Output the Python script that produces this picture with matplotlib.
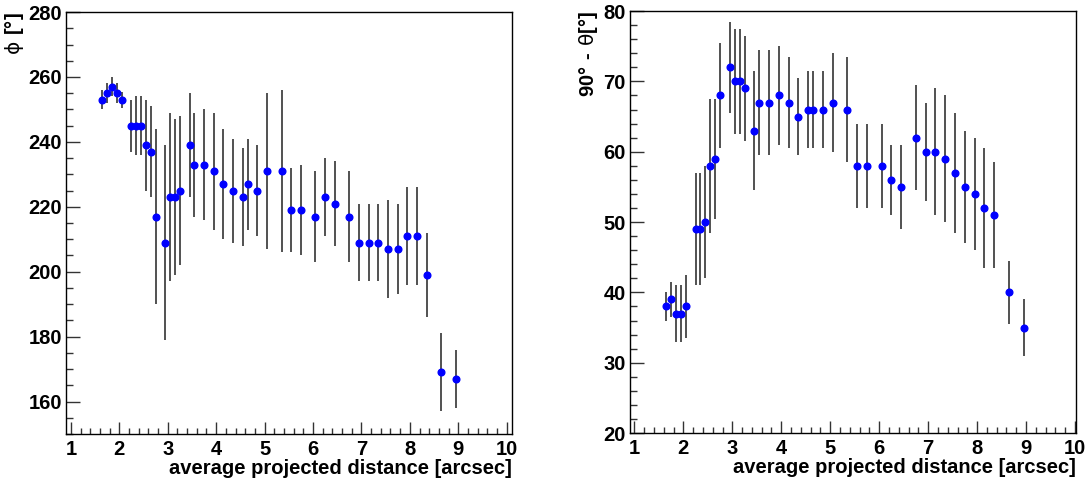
import numpy as np
import matplotlib.pyplot as plt
from matplotlib.ticker import MultipleLocator

plt.rcParams['font.family'] = ['Liberation Sans', 'DejaVu Sans']
plt.rcParams['font.weight'] = 'bold'
plt.rcParams['mathtext.fontset'] = 'custom'
plt.rcParams['mathtext.rm'] = 'DejaVu Sans:weight=normal'
plt.rcParams['mathtext.bf'] = 'Liberation Sans:bold'

# projected distance bins [arcsec]
dist = [1.65, 1.75, 1.85, 1.95, 2.05, 2.25, 2.35, 2.45, 2.55, 2.65, 2.75,
        2.95, 3.05, 3.15, 3.25, 3.45, 3.55, 3.75, 3.95, 4.15, 4.35, 4.55,
        4.65, 4.85, 5.05, 5.35, 5.55, 5.75, 6.05, 6.25, 6.45, 6.75, 6.95,
        7.15, 7.35, 7.55, 7.75, 7.95, 8.15, 8.35, 8.65, 8.95]

phi = [253, 255, 257, 255, 253, 245, 245, 245, 239, 237, 217,
       209, 223, 223, 225, 239, 233, 233, 231, 227, 225, 223,
       227, 225, 231, 231, 219, 219, 217, 223, 221, 217, 209,
       209, 209, 207, 207, 211, 211, 199, 169, 167]
phi_err = [3, 3, 3, 3, 2.5, 8, 9, 9, 14, 14, 27,
           30, 26, 24, 23, 16, 16, 17, 18, 17, 16, 15,
           14, 14, 24, 25, 13, 14, 14, 12, 13, 14, 12,
           12, 12, 15, 14, 15, 15, 13, 12, 9]

incl = [38, 39, 37, 37, 38, 49, 49, 50, 58, 59, 68,
        72, 70, 70, 69, 63, 67, 67, 68, 67, 65, 66,
        66, 66, 67, 66, 58, 58, 58, 56, 55, 62, 60,
        60, 59, 57, 55, 54, 52, 51, 40, 35]
incl_err = [2, 2.5, 4, 4, 4.5, 8, 8, 8, 9.5, 8.5, 7.5,
            6.5, 7.5, 7.5, 7.5, 8.5, 7.5, 7.5, 7, 6.5, 5.5, 5.5,
            5.5, 5.5, 7, 7.5, 6, 6, 6, 5, 6, 7.5, 7,
            9, 9, 8.5, 8, 8, 8.5, 7.5, 4.5, 4]

fig = plt.figure(figsize=(10.86, 4.78), dpi=100)
ax1 = fig.add_axes([0.0608, 0.092, 0.4107, 0.8828])
ax2 = fig.add_axes([0.5801, 0.094, 0.4107, 0.8828])

for ax, y, yerr in [(ax1, phi, phi_err), (ax2, incl, incl_err)]:
    ax.errorbar(dist, y, yerr=yerr, fmt='o', color='blue', ms=4.8,
                ecolor='#222222', elinewidth=1.1, capsize=0, zorder=3)
    ax.xaxis.set_major_locator(MultipleLocator(1))
    ax.xaxis.set_minor_locator(MultipleLocator(0.2))
    ax.tick_params(axis='both', which='both', direction='in', top=False,
                   right=False, labelsize=14.5, color='#333333', width=1)
    ax.tick_params(axis='x', which='major', length=8.6, pad=4)
    ax.tick_params(axis='x', which='minor', length=4.3)
    ax.tick_params(axis='y', which='major', length=10, pad=3)
    ax.tick_params(axis='y', which='minor', length=5)
    for lab in ax.get_xticklabels() + ax.get_yticklabels():
        lab.set_fontweight('bold')
    for s in ax.spines.values():
        s.set_linewidth(1)
    ax.set_xlabel('average projected distance [arcsec]', fontsize=14.5,
                  fontweight='bold', ha='right', va='center')
    ax.xaxis.set_label_coords(1.0, -0.081)

ax1.set_xlim(0.9, 10.11)
ax1.set_ylim(150, 280)
ax1.yaxis.set_major_locator(MultipleLocator(20))
ax1.yaxis.set_minor_locator(MultipleLocator(5))
ax1.set_ylabel(r'$\mathrm{\phi}\ \mathbf{[°]}$', fontsize=14.5,
               fontweight='normal', ha='right', va='center')
ax1.yaxis.set_label_coords(-0.116, 1.0)

ax2.set_xlim(0.91, 10.02)
ax2.set_ylim(20, 80)
ax2.yaxis.set_major_locator(MultipleLocator(10))
ax2.yaxis.set_minor_locator(MultipleLocator(2))
ax2.set_ylabel(r'$\mathbf{90°\ ‐\ }\mathrm{\theta}\mathbf{[°]}$', fontsize=14.5,
               fontweight='normal', ha='right', va='center')
ax2.yaxis.set_label_coords(-0.092, 1.0)

plt.savefig('out.png', dpi=100)
